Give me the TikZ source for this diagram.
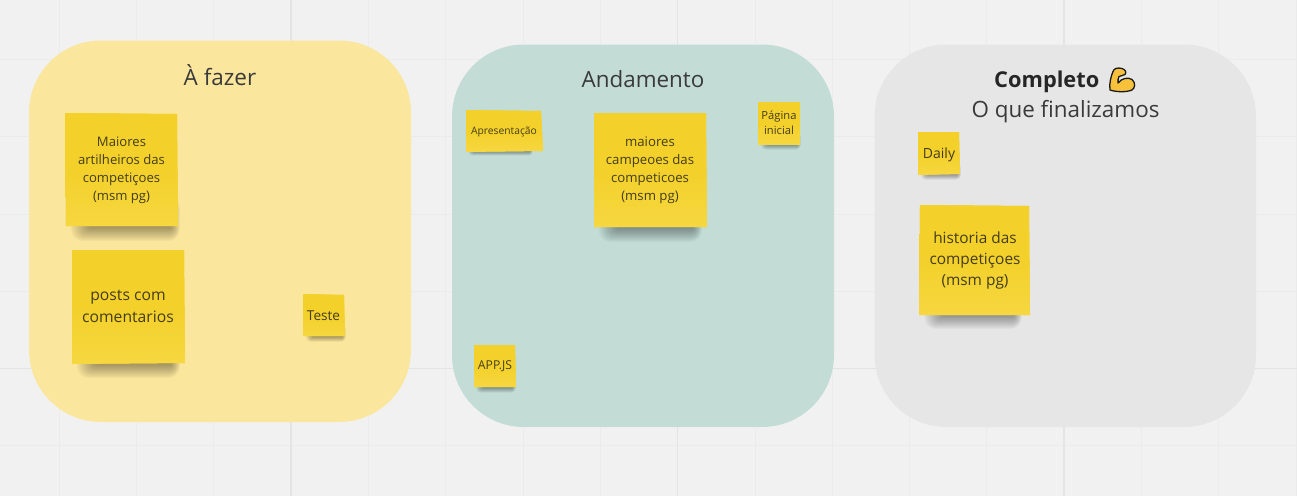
\documentclass[tikz,border=0pt]{standalone}
\usepackage{fontspec}
\setmainfont{Open Sans}
\definecolor{bgc}{HTML}{F1F1F1}
\definecolor{gridminor}{HTML}{EBEBEB}
\definecolor{gridmajor}{HTML}{E4E4E4}
\definecolor{framey}{HTML}{FBE69D}
\definecolor{frameg}{HTML}{C3DDD6}
\definecolor{framec}{HTML}{E6E6E6}
\definecolor{stickytop}{HTML}{F3D02A}
\definecolor{stickybot}{HTML}{F6D740}
\definecolor{txt}{HTML}{3A3A3A}
\definecolor{stickytxt}{HTML}{443D1C}
\definecolor{emojiy}{HTML}{F8C13C}
\tikzset{
  x=1pt,y=-1pt,
  frame/.style={rounded corners=72pt,draw=none},
  sticky/.style={draw=none,preaction={fill=stickytop},top color=stickytop,bottom color=stickybot,middle color=stickytop},
  stickytext/.style 2 args={align=center,text=stickytxt,inner sep=0pt,font=\fontsize{#1}{#2}\selectfont},
  title/.style={align=center,text=txt,inner sep=0pt},
  gmin/.style={gridminor,line width=1pt},
  gmaj/.style={gridmajor,line width=1.6pt}
}
% shadow: #1 left x, #2 right x, #3 y top, #4 depth
\newcommand{\stickshadow}[4]{%
  \foreach \k in {1,...,14}{%
    \pgfmathsetmacro{\dd}{#4*(1.25-\k*0.08)}%
    \fill[black,opacity=0.028,rounded corners={\dd*0.8 pt}]
      ({#1+#4*(0.25+\k*0.11)},{#3-\dd*2}) rectangle ({#2+#4*(0.2-\k*0.05)},{#3+\dd});
  }%
}
\begin{document}
\begin{tikzpicture}
\useasboundingbox (0,0) rectangle (1297,496);
\fill[bgc] (0,0) rectangle (1297,496);
% grid
\foreach \i in {0,...,16}{\draw[gmin] ({59.3+77.3*\i},0) -- ({59.3+77.3*\i},496);}
\foreach \i in {0,...,5}{\draw[gmin] (0,{59.4+77.3*\i}) -- (1297,{59.4+77.3*\i});}
\foreach \xx in {291,677.3,1064}{\draw[gmaj] (\xx,0) -- (\xx,496);}
\draw[gmaj] (0,368.5) -- (1297,368.5);
% frames
\fill[framey,frame] (29,40.5) rectangle (411,422);
\fill[frameg,frame] (452,44.5) rectangle (834,427);
\fill[framec,frame] (874.5,44.5) rectangle (1256,427);
\node[title,font=\fontsize{22.5}{28}\selectfont] (tA) at (220,75.5) {À fazer};
\node[title,font=\fontsize{22.4}{28}\selectfont] (tB) at (643,79) {Andamento};
\node[title,font=\fontsize{22.4}{30}\selectfont] (tC) at (1065.5,111.5) {O que finalizamos};
\node[title,anchor=base west,font=\fontsize{21.8}{28}\selectfont\bfseries,text=black!85] (tD) at (994,87) {Completo};
% emoji
\filldraw[fill=emojiy,draw=black!90,line width=1.3pt,line join=round] (1110,90)
  .. controls (1109,84) and (1111,76) .. (1113,71.5)
  .. controls (1114,68) and (1118,67.5) .. (1122,68.5)
  .. controls (1125,69.5) and (1127,72) .. (1125,74.5)
  .. controls (1123,76.5) and (1120,75) .. (1119,76.5)
  .. controls (1118,78) and (1118,80) .. (1118,83)
  .. controls (1122,78) and (1128,77) .. (1132,79.5)
  .. controls (1136,83) and (1135,88) .. (1132,90)
  .. controls (1126,92.5) and (1116,92) .. (1110,90) -- cycle;
% shadows
\stickshadow{66}{178}{226}{13}
\stickshadow{72}{178}{363}{13}
\stickshadow{304}{345}{336}{5}
\stickshadow{467}{532}{151}{4}
\stickshadow{594}{700}{227}{13}
\stickshadow{759}{800}{144}{5}
\stickshadow{474}{515}{387}{5}
\stickshadow{919}{960}{174}{5}
\stickshadow{920}{1020}{315}{12}
% stickies
\path[sticky] (65,113) -- (177,114) -- (178,226) -- (66,226) -- cycle;
\node[stickytext={13.1}{18}] (s1) at (121.5,170) {Maiores\\artilheiros das\\competiçoes\\(msm pg)};
\path[sticky] (72,250) -- (184,250) -- (185,363) -- (72,364) -- cycle;
\node[stickytext={15.7}{22}] (s2) at (128,306) {posts com\\comentarios};
\path[sticky] (303,294) -- (344,295) -- (345,336) -- (303,336) -- cycle;
\node[stickytext={13.6}{16}] (s3) at (323.5,315.5) {Teste};
\path[sticky] (466,110) -- (541,111) -- (543,151) -- (466,152) -- cycle;
\node[stickytext={10.3}{12}] (s4) at (504,131.5) {Apresentação};
\path[sticky] (594,113) -- (706,113) -- (707,227) -- (594,227) -- cycle;
\node[stickytext={13.2}{18}] (s5) at (650,170) {maiores\\campeoes das\\competicoes\\(msm pg)};
\path[sticky] (758,102) -- (800,102) -- (800,144) -- (758,144) -- cycle;
\node[stickytext={11.2}{15}] (s6) at (779,123) {Página\\inicial};
\path[sticky] (474,345) -- (515,345) -- (516,387) -- (474,387) -- cycle;
\node[stickytext={12.2}{14}] (s7) at (495,366.5) {APP.JS};
\path[sticky] (918,132) -- (959,132) -- (960,174) -- (918,175) -- cycle;
\node[stickytext={14}{16}] (s8) at (939,154.5) {Daily};
\path[sticky] (920,205) -- (1029,206) -- (1030,315) -- (919,315) -- cycle;
\node[stickytext={15.4}{20.7}] (s9) at (975,260.5) {historia das\\competiçoes\\(msm pg)};
\end{tikzpicture}
\end{document}
